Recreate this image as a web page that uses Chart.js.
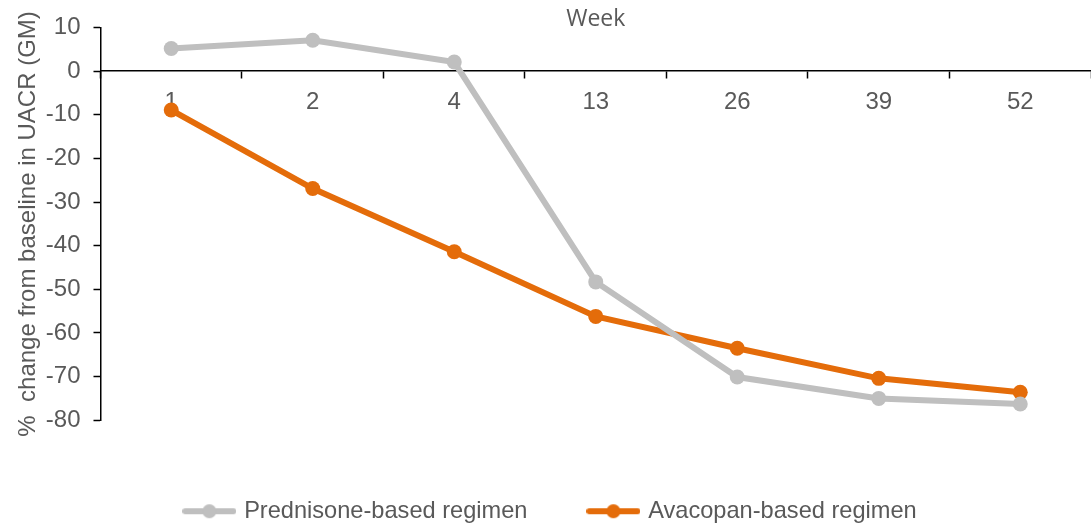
<!DOCTYPE html>
<html>
<head>
<meta charset="utf-8">
<script src="https://cdn.jsdelivr.net/npm/chart.js@4/dist/chart.umd.min.js"></script>
<style>
  html, body { margin: 0; padding: 0; background: #fff; }
  #wrap { width: 1091px; height: 527px; }
</style>
</head>
<body>
<div id="wrap"><canvas id="uacrChart"></canvas></div>
<script>
// Semanas e valores (% de mudança desde o baseline, GM)
const weeks = ['1', '2', '4', '13', '26', '39', '52'];
const prednisone = [5.2, 7.1, 2.1, -48.3, -70.1, -75.0, -76.3];
const avacopan = [-8.9, -26.9, -41.4, -56.2, -63.5, -70.4, -73.6];
const yTicks = [10, 0, -10, -20, -30, -40, -50, -60, -70, -80];

const grey = '#BFBFBF';
const orange = '#E46C0A';
const textColor = '#595959';
const font = { family: 'Liberation Sans', size: 24 };

// icone da legenda: linha com bolinha no meio
function legendIcon(color) {
    const c = document.createElement('canvas');
    c.width = 54; c.height = 16;
    const ctx = c.getContext('2d');
    ctx.strokeStyle = color;
    ctx.lineWidth = 6;
    ctx.lineCap = 'round';
    ctx.beginPath();
    ctx.moveTo(3, 8); ctx.lineTo(51, 8);
    ctx.stroke();
    ctx.fillStyle = color;
    ctx.beginPath();
    ctx.arc(27, 8, 7, 0, Math.PI * 2);
    ctx.fill();
    return c;
}

new Chart(document.getElementById('uacrChart'), {
    type: 'line',
    data: {
        labels: weeks,
        datasets: [{
            label: 'Prednisone-based regimen',
            data: prednisone,
            borderColor: grey,
            backgroundColor: grey,
            borderWidth: 6,
            pointRadius: 7.5,
            pointHoverRadius: 7.5,
            pointBorderWidth: 0,
            pointStyleIcon: legendIcon(grey)
        }, {
            label: 'Avacopan-based regimen',
            data: avacopan,
            borderColor: orange,
            backgroundColor: orange,
            borderWidth: 6,
            pointRadius: 7.5,
            pointHoverRadius: 7.5,
            pointBorderWidth: 0,
            pointStyleIcon: legendIcon(orange)
        }]
    },
    options: {
        responsive: true,
        maintainAspectRatio: false,
        animation: false,
        layout: {
            autoPadding: false,
            padding: { top: 0, right: 0, bottom: -6, left: 12 }
        },
        scales: {
            x: {
                position: { y: 0 },
                offset: true,
                grid: {
                    offset: true,
                    drawOnChartArea: false,
                    color: '#000',
                    tickLength: 7,
                    tickWidth: 1.5
                },
                border: { color: '#000', width: 1.5 },
                ticks: {
                    color: textColor,
                    font: font,
                    padding: 10,
                    maxRotation: 0
                }
            },
            y: {
                min: -80,
                max: 10,
                afterBuildTicks: function (scale) {
                    scale.ticks = yTicks.map(v => ({ value: v }));
                },
                grid: {
                    drawOnChartArea: false,
                    color: '#000',
                    tickLength: 7,
                    tickWidth: 1.5
                },
                border: { color: '#000', width: 1.5 },
                ticks: {
                    color: textColor,
                    font: font,
                    padding: 13
                },
                title: {
                    display: true,
                    text: '%  change from baseline in UACR (GM)',
                    color: textColor,
                    font: font,
                    padding: { top: 2, bottom: -10 }
                }
            }
        },
        plugins: {
            title: {
                display: true,
                fullSize: false,
                text: 'Week',
                color: textColor,
                font: { family: 'Open Sans', size: 23, weight: 'normal' },
                padding: { top: 6, bottom: -6 }
            },
            legend: {
                position: 'bottom',
                title: {
                    display: true,
                    text: ' ',
                    font: { size: 1 },
                    padding: { top: 15, bottom: 0 }
                },
                labels: {
                    color: textColor,
                    font: { family: 'Liberation Sans', size: 23.6 },
                    usePointStyle: true,
                    pointStyleWidth: 46,
                    padding: 63,
                    generateLabels: function (chart) {
                        return chart.data.datasets.map((ds, i) => ({
                            text: ds.label,
                            fontColor: textColor,
                            pointStyle: ds.pointStyleIcon,
                            datasetIndex: i,
                            hidden: !chart.isDatasetVisible(i),
                            lineWidth: 0
                        }));
                    }
                }
            },
            tooltip: { enabled: false }
        }
    }
});
</script>
</body>
</html>
